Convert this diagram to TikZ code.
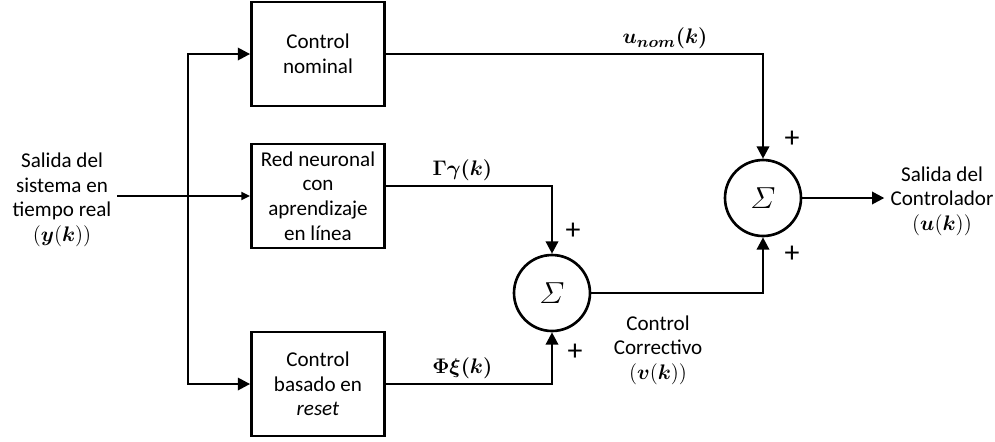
\documentclass[tikz,border=0pt]{standalone}
\usepackage{amsmath}
\usepackage{fontspec}
\setmainfont{Carlito}
\usetikzlibrary{positioning, arrows.meta}
\tikzset{
  block/.style={
    draw=black, line width=1.6pt, minimum width=2.66cm, minimum height=2.08cm,
    align=center, inner sep=3pt
  },
  sumnode/.style={
    draw=black, circle, line width=1.5pt, minimum size=1.52cm, inner sep=0pt,
    font=\fontsize{17}{17}\selectfont
  },
  arrow/.style={-{Triangle[length=7pt,width=7pt]}, line width=1.4pt},
  thinarrow/.style={-{Triangle[length=5pt,width=4.5pt]}, line width=1.4pt},
  signlabel/.style={font=\fontsize{17}{17}\selectfont},
  sidetext/.style={align=center},
  mathlabel/.style={above, inner sep=2pt, font=\fontsize{13}{13}\selectfont}
}

\begin{document}
\begin{tikzpicture}[x=0.02cm, y=-0.02cm, font=\fontsize{12}{14}\selectfont]
  \useasboundingbox (0,0) rectangle (995,441);

  % bloques
  \node[block] (nominal) at (318,54) {Control\\nominal};
  \node[block] (red) at (318,196) {Red neuronal\\con\\aprendizaje\\en línea};
  \node[block] (reset) at (318,384) {Control\\basado en\\\textit{reset}};

  % sumadores
  \node[sumnode] (sum1) at (552,293) {$\varSigma$};
  \node[sumnode] (sum2) at (763,198) {$\varSigma$};

  % entrada y salida
  \node[sidetext] (input) at (62,200) {Salida del\\sistema en\\tiempo real\\$(\boldsymbol{y}(\boldsymbol{k}))$};
  \node[sidetext] (output) at (942,201) {Salida del\\Controlador\\$(\boldsymbol{u}(\boldsymbol{k}))$};
  \coordinate (split) at (188,196);

  % conexiones
  \draw[line width=1.4pt] (input.east |- red.west) -- (split);
  \draw[thinarrow] (split) -- (red.west);
  \draw[arrow] (split) |- (nominal.west);
  \draw[arrow] (split) |- (reset.west);
  \draw[arrow] (nominal.east) -| node[pos=0.37, mathlabel] {$\boldsymbol{u_{nom}(k)}$} (sum2.north);
  \draw[arrow] ([yshift=0.2cm]red.east) -| node[pos=0.23, mathlabel] {$\boldsymbol{\Gamma\gamma(k)}$} (sum1.north);
  \draw[arrow] (reset.east) -| node[pos=0.23, mathlabel] {$\boldsymbol{\Phi\xi(k)}$} (sum1.south);
  \draw[arrow] (sum1.east) -| (sum2.south);
  \draw[arrow] (sum2.east) -- (sum2.east -| output.west);

  % signos
  \node[signlabel] (p1) at (573,231) {+};
  \node[signlabel] (p2) at (575,352) {+};
  \node[signlabel] (p3) at (792,139) {+};
  \node[signlabel] (p4) at (792,254) {+};

  \node[sidetext] (corr) at (658,350) {Control\\Correctivo\\$(\boldsymbol{v}(\boldsymbol{k}))$};
\end{tikzpicture}
\end{document}
